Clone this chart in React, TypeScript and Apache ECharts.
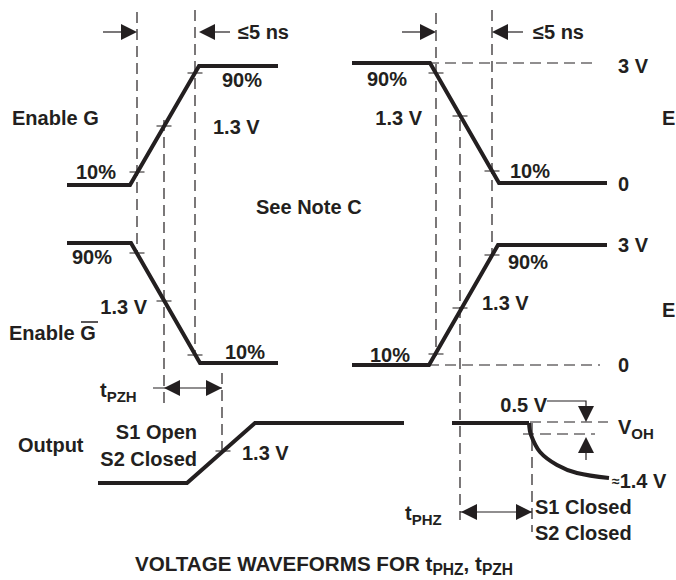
import React, { useEffect, useRef } from 'react';
import * as echarts from 'echarts';

const W = 676;
const H = 580;
const INK = '#231f20';
const FAMILY = '"Liberation Sans", Arial, Helvetica, sans-serif';
const FONT = `bold 20px ${FAMILY}`;

// ---- Waveforms: vertices [time, level] in diagram units (origin top-left) ----
const enableGRise = [[67, 185], [130, 185], [199, 66], [278, 66]];
const enableGbarFall = [[67, 243], [131, 243], [200, 363], [278, 363]];
const enableGFall = [[352, 63], [430, 63], [499, 183], [607, 183]];
const enableGbarRise = [[352, 365], [429, 365], [498, 245], [607, 245]];
const outputPZH = [[98, 483], [187, 483], [255, 423], [404, 423]];
const outputPHZFlat = [[452, 423], [529, 423]];
const outputPHZDecay = [[529, 423], [531, 435], [540, 452], [557, 465], [577, 473], [609, 478]];

// ---- Dashed reference lines ----
const dashedGuides = [
  [[137, 12], [137, 253]],
  [[164, 120], [164, 407]],
  [[195, 10], [195, 356]],
  [[222, 373], [222, 452]],
  [[436, 13], [436, 356]],
  [[460, 120], [460, 520]],
  [[492, 10], [492, 254]],
  [[532, 423], [532, 532]],
  [[428, 63], [598, 63]],
  [[428, 365], [600, 365]],
  [[530, 422], [608, 422]],
  [[523, 434], [595, 434]],
];

// ---- Measurement crosses (10 %, 1.3 V, 90 % points) ----
const crossPoints = [
  [137, 172], [164, 126], [195, 73],
  [137, 253], [164, 301], [195, 355],
  [436, 73], [460, 116], [492, 171],
  [436, 354], [460, 308], [492, 255],
  [223, 451],
];

// ---- Arrow shafts / leaders ----
const arrowShafts = [
  [[103, 32], [122, 32]],
  [[214, 32], [230, 32]],
  [[402, 32], [421, 32]],
  [[507, 32], [523, 32]],
  [[153, 388], [222, 388]],
  [[460, 512], [532, 512]],
  [[547, 401], [586, 401], [586, 408]],
  [[586, 452], [586, 460]],
];
const overbar = [[[81, 322], [98, 322]]];

// ---- Arrow heads: [tipX, tipY, direction deg (0 right, 90 down, 180 left, 270 up)] ----
const arrowHeads = [
  [137, 32, 0], [199, 32, 180], [436, 32, 0], [492, 32, 180],
  [164, 388, 180], [222, 388, 0],
  [461, 512, 180], [532, 512, 0],
  [586, 422, 90], [586, 437, 270],
];

// ---- Text labels ----
type Lbl = { t: string; x: number; y: number; a?: string };
const labels: Lbl[] = [
  { t: '≤5 ns', x: 238, y: 32 },
  { t: '≤5 ns', x: 533, y: 32 },
  { t: 'Enable G', x: 12, y: 118 },
  { t: '90%', x: 222, y: 80 },
  { t: '1.3 V', x: 213, y: 127 },
  { t: '10%', x: 76, y: 172 },
  { t: 'See Note C', x: 256, y: 207 },
  { t: '90%', x: 367, y: 79 },
  { t: '1.3 V', x: 422, y: 118, a: 'right' },
  { t: '10%', x: 510, y: 171 },
  { t: '3 V', x: 618, y: 66 },
  { t: '0', x: 618, y: 184 },
  { t: 'E', x: 662, y: 118 },
  { t: '90%', x: 72, y: 257 },
  { t: '1.3 V', x: 147, y: 307, a: 'right' },
  { t: 'Enable G', x: 9, y: 333 },
  { t: '10%', x: 225, y: 352 },
  { t: '{m|t}{s|PZH}', x: 100, y: 390 },
  { t: '10%', x: 370, y: 355 },
  { t: '1.3 V', x: 482, y: 303 },
  { t: '90%', x: 508, y: 262 },
  { t: '3 V', x: 618, y: 245 },
  { t: '0', x: 618, y: 365 },
  { t: 'E', x: 662, y: 310 },
  { t: 'Output', x: 18, y: 445 },
  { t: 'S1 Open', x: 197, y: 432, a: 'right' },
  { t: 'S2 Closed', x: 197, y: 459, a: 'right' },
  { t: '1.3 V', x: 242, y: 453 },
  { t: '0.5 V', x: 547, y: 405, a: 'right' },
  { t: '{m|V}{s|OH}', x: 618, y: 427 },
  { t: '{ap|≈}{m|1.4 V}', x: 612, y: 481 },
  { t: '{m|t}{s|PHZ}', x: 405, y: 513 },
  { t: 'S1 Closed', x: 535, y: 507 },
  { t: 'S2 Closed', x: 535, y: 533 },
  { t: '{T|VOLTAGE WAVEFORMS FOR t}{ts|PHZ}{T|, t}{ts|PZH}', x: 324, y: 563, a: 'center' },
];

const RICH = {
  m: { fontSize: 20, fontWeight: 'bold', fontFamily: FAMILY, fill: INK, lineHeight: 28 },
  s: { fontSize: 15, fontWeight: 'bold', fontFamily: FAMILY, fill: INK, lineHeight: 15, verticalAlign: 'bottom' },
  T: { fontSize: 20.6, fontWeight: 'bold', fontFamily: FAMILY, fill: INK, lineHeight: 28 },
  ts: { fontSize: 15.6, fontWeight: 'bold', fontFamily: FAMILY, fill: INK, lineHeight: 15, verticalAlign: 'bottom' },
  ap: { fontSize: 14, fontWeight: 'bold', fontFamily: FAMILY, fill: INK, lineHeight: 28 },
};

const wave = (data: number[][], smooth: number | boolean = false) => ({
  type: 'line',
  data,
  symbol: 'none',
  showSymbol: false,
  smooth,
  silent: true,
  lineStyle: { color: INK, width: 4, join: 'miter', cap: 'butt' },
  z: 5,
});

const segs = (list: number[][][], dashed: boolean, width: number) => ({
  type: 'lines',
  coordinateSystem: 'cartesian2d',
  polyline: true,
  silent: true,
  data: list.map((c) => ({ coords: c })),
  lineStyle: { color: INK, width, opacity: 1, curveness: 0, type: dashed ? [11, 6] : 'solid' },
  z: 3,
});

const option: any = {
  animation: false,
  backgroundColor: '#ffffff',
  grid: { left: 0, right: 0, top: 0, bottom: 0, containLabel: false },
  xAxis: { type: 'value', min: 0, max: W, show: false },
  yAxis: { type: 'value', min: 0, max: H, inverse: true, show: false },
  series: [
    wave(enableGRise),
    wave(enableGbarFall),
    wave(enableGFall),
    wave(enableGbarRise),
    wave(outputPZH),
    wave(outputPHZFlat),
    wave(outputPHZDecay, 0.35),
    segs(dashedGuides, true, 1.2),
    segs(arrowShafts, false, 1.2),
    segs(overbar, false, 1.5),
    {
      type: 'scatter',
      data: crossPoints,
      symbol: 'rect',
      symbolSize: [15, 1.3],
      itemStyle: { color: INK },
      silent: true,
      z: 4,
    },
    {
      type: 'custom',
      data: arrowHeads,
      silent: true,
      z: 6,
      renderItem: (params: any, api: any) => {
        const p = api.coord([api.value(0), api.value(1)]);
        const a = (api.value(2) * Math.PI) / 180;
        const dx = Math.cos(a);
        const dy = Math.sin(a);
        const L = 16;
        const hw = 8;
        const bx = p[0] - dx * L;
        const by = p[1] - dy * L;
        return {
          type: 'polygon',
          shape: { points: [[p[0], p[1]], [bx - dy * hw, by + dx * hw], [bx + dy * hw, by - dx * hw]] },
          style: { fill: INK },
        };
      },
    },
    {
      type: 'custom',
      data: labels.map((l) => [l.x, l.y]),
      silent: true,
      z: 7,
      renderItem: (params: any, api: any) => {
        const lb = labels[params.dataIndex];
        const p = api.coord([api.value(0), api.value(1)]);
        return {
          type: 'text',
          x: p[0],
          y: p[1],
          style: {
            text: lb.t,
            font: FONT,
            fill: INK,
            align: lb.a || 'left',
            verticalAlign: 'middle',
            rich: RICH,
          },
        };
      },
    },
  ],
};

export default function App() {
  const ref = useRef<HTMLDivElement>(null);
  useEffect(() => {
    document.body.style.margin = '0';
    const chart = echarts.init(ref.current!, null, { renderer: 'svg', width: W, height: H });
    chart.setOption(option);
    return () => chart.dispose();
  }, []);
  return <div ref={ref} style={{ width: W, height: H }} />;
}
